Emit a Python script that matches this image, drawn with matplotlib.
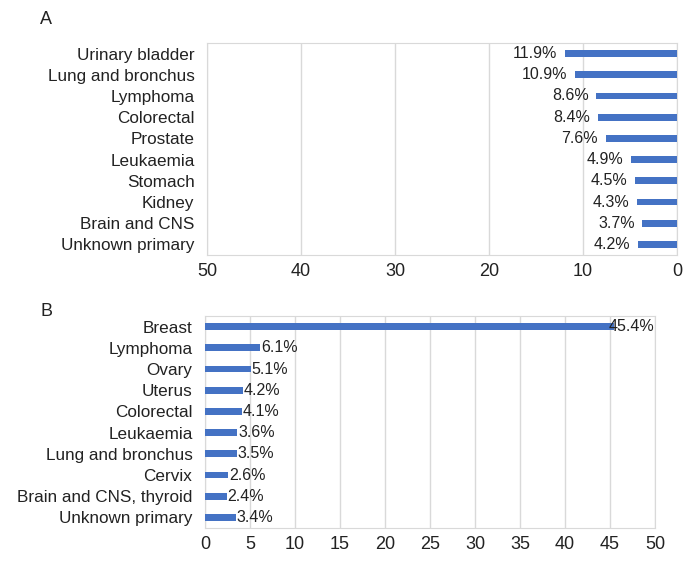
import matplotlib.pyplot as plt

# Data
cats_a = ['Urinary bladder', 'Lung and bronchus', 'Lymphoma', 'Colorectal', 'Prostate',
          'Leukaemia', 'Stomach', 'Kidney', 'Brain and CNS', 'Unknown primary']
vals_a = [11.9, 10.9, 8.6, 8.4, 7.6, 4.9, 4.5, 4.3, 3.7, 4.2]

cats_b = ['Breast', 'Lymphoma', 'Ovary', 'Uterus', 'Colorectal', 'Leukaemia',
          'Lung and bronchus', 'Cervix', 'Brain and CNS, thyroid', 'Unknown primary']
vals_b = [45.4, 6.1, 5.1, 4.2, 4.1, 3.6, 3.5, 2.6, 2.4, 3.4]

plt.rcParams['font.family'] = ['Liberation Sans', 'DejaVu Sans']
plt.rcParams['text.color'] = '#222222'
plt.rcParams['xtick.color'] = '#222222'
plt.rcParams['ytick.color'] = '#222222'

bar_color = '#4472C4'
grid_color = '#d9d9d9'

fig = plt.figure(figsize=(7, 5.65), dpi=100)
ax_a = fig.add_axes([207 / 700, 1 - 255 / 565, 470 / 700, 212 / 565])
ax_b = fig.add_axes([205 / 700, 1 - 528 / 565, 450 / 700, 212 / 565])

for ax, cats, vals in [(ax_a, cats_a, vals_a), (ax_b, cats_b, vals_b)]:
    y = list(range(len(cats)))
    ax.barh(y, vals, height=0.33, color=bar_color, zorder=3)
    ax.set_yticks(y)
    ax.set_yticklabels(cats, fontsize=12.3)
    ax.set_ylim(len(cats) - 0.5, -0.5)
    ax.tick_params(axis='y', length=0, pad=9)
    ax.tick_params(axis='x', length=0, pad=6, labelsize=13)
    ax.grid(axis='x', color=grid_color, linewidth=1, zorder=0)
    for s in ax.spines.values():
        s.set_color(grid_color)

# Panel A: reversed axis, labels left of bars
ax_a.set_xlim(50, 0)
ax_a.set_xticks([50, 40, 30, 20, 10, 0])
for i, v in enumerate(vals_a):
    ax_a.text(v + 0.8, i, f'{v}%', ha='right', va='center', fontsize=11.5, zorder=4)

# Panel B
ax_b.set_xlim(0, 50)
ax_b.set_xticks(range(0, 51, 5))
for i, v in enumerate(vals_b):
    x = v - 0.5 if v > 40 else v + 0.1
    ax_b.text(x, i, f'{v}%', ha='left', va='center', fontsize=11.5, zorder=4)

fig.text(40 / 700, 1 - 20 / 565, 'A', fontsize=13, va='center', ha='left')
fig.text(40 / 700, 1 - 311 / 565, 'B', fontsize=13, va='center', ha='left')

fig.savefig('out.png', dpi=100)
